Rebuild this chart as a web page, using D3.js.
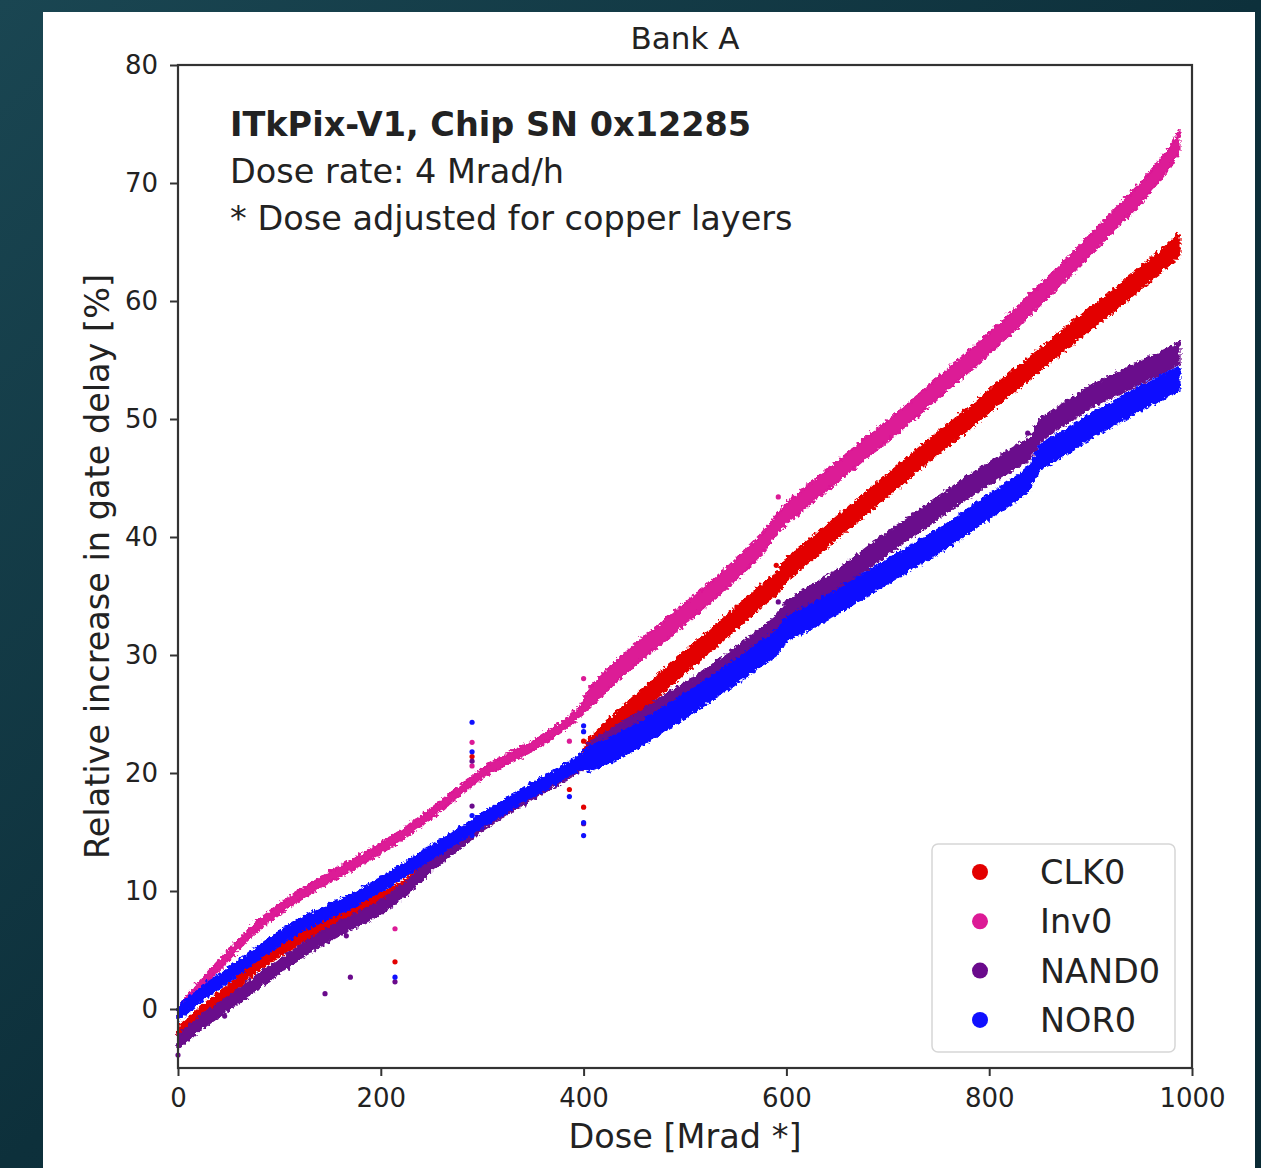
<!DOCTYPE html>
<html>
<head>
<meta charset="utf-8">
<script src="https://d3js.org/d3.v7.min.js"></script>
<style>
    body { margin: 0; background: #0c2f3a; }
    svg text { font-family: "DejaVu Sans", sans-serif; fill: #222; }
</style>
</head>
<body>
<div id="chart"></div>
<script>
    // dose grid shared by all four series [Mrad *]
    var dose = [0, 25, 50, 75, 100, 125, 150, 175, 200, 225, 250, 275, 300, 325, 350, 375, 398,
        405, 425, 450, 475, 500, 525, 550, 575, 590, 600, 625, 650, 675, 700, 725, 750, 775, 800,
        825, 840, 850, 875, 900, 925, 950, 975, 988];

    // centre of each scatter band, relative increase in gate delay [%]
    var clk0 = [-2.0, -0.1, 1.6, 3.5, 5.0, 6.3, 7.4, 8.4, 9.3, 10.5, 12.6, 14.3, 15.9, 17.3, 18.6, 19.8, 21.0,
        22.0, 23.6, 25.6, 27.5, 29.4, 31.2, 33.1, 35.0, 36.0, 37.2, 39.0, 40.8, 42.6, 44.4, 46.2, 48.0, 49.7, 51.5,
        53.3, 54.3, 55.0, 56.8, 58.5, 60.2, 62.0, 63.8, 64.8];
    var inv0 = [-0.3, 2.3, 4.6, 6.8, 8.5, 9.9, 11.2, 12.4, 13.6, 15.0, 16.6, 18.3, 20.0, 21.2, 22.3, 23.7, 25.3,
        26.3, 28.0, 30.0, 31.7, 33.5, 35.3, 37.2, 39.3, 41.0, 42.0, 43.8, 45.5, 47.3, 49.0, 50.8, 52.7, 54.5, 56.4,
        58.4, 59.7, 60.5, 62.6, 64.8, 67.0, 69.2, 71.8, 73.6];
    var nand0 = [-2.8, -1.0, 0.5, 2.1, 3.6, 5.1, 6.4, 7.5, 8.6, 10.2, 12.3, 14.0, 15.7, 17.1, 18.4, 19.6, 20.8,
        21.6, 22.7, 24.0, 25.4, 26.7, 28.1, 29.7, 31.4, 32.4, 33.6, 35.0, 36.3, 37.9, 39.5, 41.0, 42.5, 44.0, 45.4,
        46.7, 47.5, 49.0, 50.5, 51.9, 52.9, 54.0, 55.0, 55.6];
    var nor0 = [-0.4, 1.4, 2.9, 4.5, 6.0, 7.3, 8.3, 9.3, 10.5, 11.9, 13.3, 14.6, 16.0, 17.3, 18.6, 19.8, 21.0,
        21.2, 21.9, 23.0, 24.3, 25.7, 27.1, 28.6, 30.1, 31.0, 32.2, 33.3, 34.5, 35.8, 37.1, 38.4, 39.6, 41.1, 42.6,
        44.0, 45.0, 46.8, 48.0, 49.4, 50.6, 51.8, 52.9, 53.4];

    // half-width of the scatter [%], before / after 400 Mrad
    var clk0Spread = [0.5, 0.95];
    var inv0Spread = [0.45, 0.9];
    var nand0Spread = [0.6, 0.95];
    var nor0Spread = [0.6, 1.05];

    // stray points [dose, %]
    var clk0Out = [[214, 4.0], [290, 21.4], [386, 18.6], [400, 22.7], [400, 17.1], [590, 37.6]];
    var inv0Out = [[214, 6.8], [290, 22.6], [290, 20.6], [386, 22.7], [400, 28.0], [592, 43.4]];
    var nand0Out = [[0, -3.9], [46, -0.6], [145, 1.3], [170, 2.7], [166, 6.2], [214, 2.3], [290, 21.0],
        [290, 17.2], [400, 15.7], [592, 34.5], [838, 48.8]];
    var nor0Out = [[214, 2.7], [290, 24.3], [290, 21.8], [290, 16.4], [290, 14.7], [386, 18.0], [400, 24.0],
        [400, 23.5], [400, 15.8], [400, 14.7]];

    var seriesNames = ["CLK0", "Inv0", "NAND0", "NOR0"];
    var seriesColors = ["#e30000", "#dc1a96", "#6a0a8c", "#1010ff"];
    var xTicks = [0, 200, 400, 600, 800, 1000];
    var yTicks = [0, 10, 20, 30, 40, 50, 60, 70, 80];

    var series = [
        { name: seriesNames[0], vals: clk0, spread: clk0Spread, out: clk0Out, color: seriesColors[0] },
        { name: seriesNames[1], vals: inv0, spread: inv0Spread, out: inv0Out, color: seriesColors[1] },
        { name: seriesNames[2], vals: nand0, spread: nand0Spread, out: nand0Out, color: seriesColors[2] },
        { name: seriesNames[3], vals: nor0, spread: nor0Spread, out: nor0Out, color: seriesColors[3] }
    ];

    var W = 1261, H = 1168;
    var margin = { top: 65, right: 69, bottom: 100, left: 178 },
        width = W - margin.left - margin.right,
        height = H - margin.top - margin.bottom;

    var svg = d3.select("#chart").append("svg")
        .attr("width", W)
        .attr("height", H);

    var defs = svg.append("defs");
    // dark backdrop
    var grad = defs.append("linearGradient")
        .attr("id", "bg").attr("x1", 0).attr("y1", 0).attr("x2", 1).attr("y2", 1);
    grad.append("stop").attr("offset", "0").attr("stop-color", "#1a4652");
    grad.append("stop").attr("offset", "0.5").attr("stop-color", "#0d303b");
    grad.append("stop").attr("offset", "1").attr("stop-color", "#0a2a34");
    // rough edges so the bands read like dense scatter
    var rough = defs.append("filter").attr("id", "rough")
        .attr("x", "-5%").attr("y", "-5%").attr("width", "110%").attr("height", "110%");
    rough.append("feTurbulence")
        .attr("type", "fractalNoise").attr("baseFrequency", 0.3)
        .attr("numOctaves", 2).attr("seed", 3).attr("result", "noise");
    rough.append("feDisplacementMap")
        .attr("in", "SourceGraphic").attr("in2", "noise")
        .attr("scale", 7).attr("xChannelSelector", "R").attr("yChannelSelector", "G");

    svg.append("rect").attr("width", W).attr("height", H).attr("fill", "url(#bg)");
    svg.append("rect")
        .attr("x", 43).attr("y", 12)
        .attr("width", 1212).attr("height", H - 12)
        .attr("fill", "#ffffff");

    var g = svg.append("g")
        .attr("transform", "translate(" + margin.left + "," + margin.top + ")");

    var x = d3.scaleLinear().domain([0, 1000]).range([0, width]);
    var y = d3.scaleLinear().domain([-5, 80]).range([height, 0]);

    // scatter bands
    var bands = g.append("g").attr("filter", "url(#rough)");
    series.forEach(function (s) {
        var pts = dose.map(function (d, i) {
            var sp = d < 400 ? s.spread[0] : s.spread[1];
            return { d: d, v: s.vals[i], sp: sp };
        });
        var area = d3.area()
            .x(function (p) { return x(p.d); })
            .y0(function (p) { return y(p.v - p.sp); })
            .y1(function (p) { return y(p.v + p.sp); });
        bands.append("path")
            .datum(pts)
            .attr("d", area)
            .attr("fill", s.color)
            .attr("stroke", s.color)
            .attr("stroke-width", 1.5)
            .attr("stroke-linejoin", "round");
        g.selectAll(null)
            .data(s.out)
            .enter()
            .append("circle")
            .attr("cx", function (p) { return x(p[0]); })
            .attr("cy", function (p) { return y(p[1]); })
            .attr("r", 2.6)
            .attr("fill", s.color);
    });

    // axes
    var xAxis = g.append("g")
        .attr("transform", "translate(0," + height + ")")
        .call(d3.axisBottom(x).tickValues(xTicks).tickFormat(d3.format("d"))
            .tickSize(8).tickPadding(13).tickSizeOuter(0));
    var yAxis = g.append("g")
        .call(d3.axisLeft(y).tickValues(yTicks).tickFormat(d3.format("d"))
            .tickSize(8).tickPadding(12).tickSizeOuter(0));
    [xAxis, yAxis].forEach(function (a) {
        a.select(".domain").remove();
        a.selectAll("line").attr("stroke", "#333").attr("stroke-width", 2);
        a.selectAll("text").style("font-size", "26px").attr("fill", "#333");
    });

    // frame
    g.append("rect")
        .attr("width", width).attr("height", height)
        .attr("fill", "none")
        .attr("stroke", "#333")
        .attr("stroke-width", 2.2);

    // titles
    svg.append("text")
        .attr("x", margin.left + width / 2).attr("y", 49)
        .attr("text-anchor", "middle")
        .style("font-size", "31px")
        .text("Bank A");
    svg.append("text")
        .attr("x", margin.left + width / 2).attr("y", 1148)
        .attr("text-anchor", "middle")
        .style("font-size", "33.5px")
        .text("Dose [Mrad *]");
    svg.append("text")
        .attr("transform", "translate(109," + (margin.top + height / 2) + ")rotate(-90)")
        .attr("text-anchor", "middle")
        .style("font-size", "33.5px")
        .text("Relative increase in gate delay [%]");

    // annotation
    svg.append("text")
        .attr("x", 230).attr("y", 136)
        .style("font-size", "33.5px")
        .style("font-weight", "bold")
        .text("ITkPix-V1, Chip SN 0x12285");
    svg.append("text")
        .attr("x", 230).attr("y", 183)
        .style("font-size", "33.5px")
        .text("Dose rate: 4 Mrad/h");
    svg.append("text")
        .attr("x", 230).attr("y", 230)
        .style("font-size", "33.5px")
        .text("* Dose adjusted for copper layers");

    // legend
    var leg = svg.append("g").attr("transform", "translate(932,844)");
    leg.append("rect")
        .attr("width", 243).attr("height", 208).attr("rx", 6)
        .attr("fill", "#ffffff").attr("fill-opacity", 0.85)
        .attr("stroke", "#d6d6d6").attr("stroke-width", 1.5);
    var items = leg.selectAll(".item")
        .data(series)
        .enter()
        .append("g")
        .attr("transform", function (d, i) { return "translate(0," + (28 + i * 49.3) + ")"; });
    items.append("circle")
        .attr("cx", 48).attr("r", 8)
        .attr("fill", function (d) { return d.color; });
    items.append("text")
        .attr("x", 108).attr("y", 12)
        .style("font-size", "33.5px")
        .text(function (d) { return d.name; });
</script>
</body>
</html>
